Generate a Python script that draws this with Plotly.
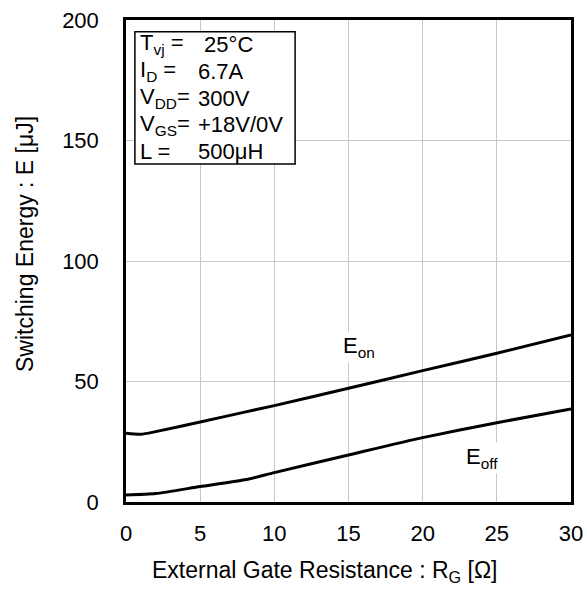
import plotly.graph_objects as go

# Data
rg_on = [0, 1, 2, 5, 8, 10, 15, 20, 25, 30]
eon = [28.5, 28.1, 29.2, 33.2, 37.3, 40.0, 47.2, 54.5, 61.7, 69.3]
rg_off = [0, 2, 5, 8, 10, 15, 20, 25, 30]
eoff = [2.9, 3.5, 6.4, 9.2, 12.2, 19.5, 26.7, 32.9, 38.6]

x_ticks = [0, 5, 10, 15, 20, 25, 30]
y_ticks = [0, 50, 100, 150, 200]

cond_labels = ["T<sub>vj</sub> =", "I<sub>D</sub> =", "V<sub>DD</sub>=", "V<sub>GS</sub>=", "L ="]
cond_values = [" 25°C", "6.7A", "300V", "+18V/0V", "500μH"]

x_title = "External Gate Resistance : R<sub>G</sub> [Ω]"
y_title = "Switching Energy : E [μJ]"

FONT = "Liberation Sans, Arial, sans-serif"

fig = go.Figure()
fig.add_trace(go.Scatter(x=rg_on, y=eon, mode="lines", line=dict(color="black", width=3, shape="spline", smoothing=0.6), showlegend=False))
fig.add_trace(go.Scatter(x=rg_off, y=eoff, mode="lines", line=dict(color="black", width=3, shape="spline", smoothing=0.6), showlegend=False))

# Condition box
fig.add_shape(type="rect", xref="x", yref="y", x0=0.6, x1=11.4, y0=140.2, y1=195.1,
              line=dict(color="black", width=1.5), fillcolor="white", layer="above")

line_y = [190.0, 178.8, 167.6, 156.6, 145.6]
for lab, val, yy in zip(cond_labels, cond_values, line_y):
    fig.add_annotation(x=0.78, y=yy, xref="x", yref="y", text=lab, showarrow=False,
                       xanchor="left", yanchor="middle", font=dict(size=22, color="black", family=FONT))
    fig.add_annotation(x=4.75, y=yy, xref="x", yref="y", text=val, showarrow=False,
                       xanchor="left", yanchor="middle", font=dict(size=22, color="black", family=FONT))

fig.add_annotation(x=15.7, y=64.5, xref="x", yref="y", text="E<sub>on</sub>", showarrow=False,
                   font=dict(size=22, color="black", family=FONT), bgcolor="white")
fig.add_annotation(x=24.0, y=18.3, xref="x", yref="y", text="E<sub>off</sub>", showarrow=False,
                   font=dict(size=22, color="black", family=FONT), bgcolor="white")

# Axis titles (placed as in the reference, slightly off-centre)
fig.add_annotation(x=(324 - 126) / 445, y=(502 - 571) / 482, xref="paper", yref="paper",
                   text=x_title, showarrow=False, xanchor="center", yanchor="middle",
                   font=dict(size=23, color="black", family=FONT))
fig.add_annotation(x=(25 - 126) / 445, y=(502 - 244) / 482, xref="paper", yref="paper",
                   text=y_title, showarrow=False, xanchor="center", yanchor="middle", textangle=-90,
                   font=dict(size=23, color="black", family=FONT))

fig.update_layout(
    width=587, height=598,
    margin=dict(l=126, r=16, t=20, b=96, autoexpand=False),
    paper_bgcolor="white", plot_bgcolor="white",
    font=dict(family=FONT, size=22, color="black"),
    xaxis=dict(range=[0, 30], tickvals=x_ticks, showgrid=True, gridcolor="#c8c8c8", gridwidth=1,
               showline=True, linecolor="black", linewidth=2.5, mirror=True, ticks="", zeroline=False,
               automargin=False, ticklen=0),
    yaxis=dict(range=[0, 200], tickvals=y_ticks, showgrid=True, gridcolor="#c8c8c8", gridwidth=1,
               showline=True, linecolor="black", linewidth=2.5, mirror=True, ticks="", zeroline=False,
               automargin=False),
)
fig.update_xaxes(ticklabelstandoff=10)
fig.update_yaxes(ticklabelstandoff=20)

fig.write_html("out.html")
